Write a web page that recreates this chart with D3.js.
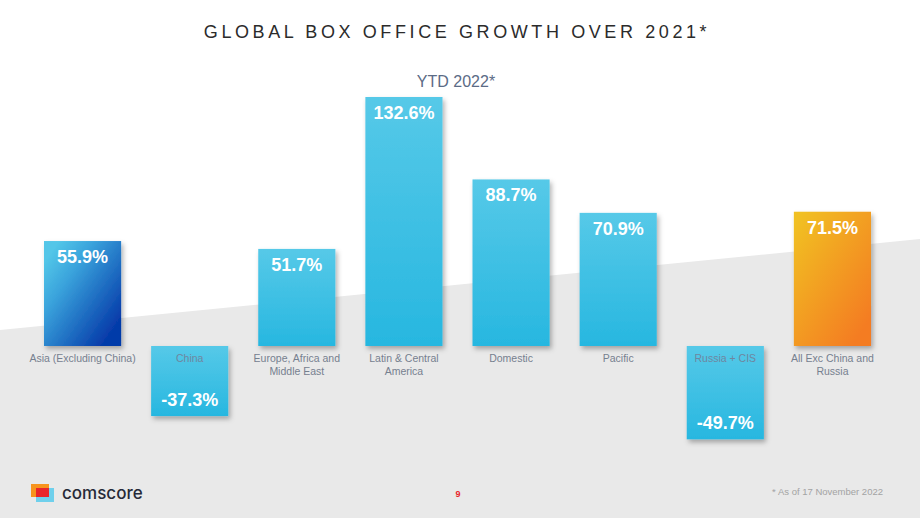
<!DOCTYPE html>
<html lang="en">
<head>
<meta charset="UTF-8">
<title>Global Box Office Growth</title>
<script src="https://cdn.jsdelivr.net/npm/d3@7"></script>
<style>
  body { margin: 0; background: #fff; }
  svg { display: block; font-family: Arial, "Liberation Sans", sans-serif; }
</style>
</head>
<body>
<div id="chart"></div>
<script>
// data
var regions = ["Asia (Excluding China)", "China", "Europe, Africa and|Middle East", "Latin & Central|America", "Domestic", "Pacific", "Russia + CIS", "All Exc China and|Russia"];
var growth = [55.9, -37.3, 51.7, 132.6, 88.7, 70.9, -49.7, 71.5];
var fills = ["asia", "blue", "blue", "blue", "blue", "blue", "blue", "orange"];

var width = 920, height = 518;

var svg = d3.select("#chart").append("svg")
    .attr("width", width)
    .attr("height", height);

var defs = svg.append("defs");

var blue = defs.append("linearGradient").attr("id", "blue")
    .attr("x1", 0).attr("y1", 0).attr("x2", 0).attr("y2", 1);
blue.append("stop").attr("offset", "0%").attr("stop-color", "#56c9e8");
blue.append("stop").attr("offset", "100%").attr("stop-color", "#27b7e0");

var asia = defs.append("linearGradient").attr("id", "asia")
    .attr("x1", 0.1).attr("y1", 0.1).attr("x2", 0.9).attr("y2", 0.85);
asia.append("stop").attr("offset", "0%").attr("stop-color", "#52c6e8");
asia.append("stop").attr("offset", "30%").attr("stop-color", "#3aa3dc");
asia.append("stop").attr("offset", "100%").attr("stop-color", "#053aa9");

var orange = defs.append("linearGradient").attr("id", "orange")
    .attr("x1", 0.1).attr("y1", 0).attr("x2", 0.9).attr("y2", 0.9);
orange.append("stop").attr("offset", "0%").attr("stop-color", "#f1c022");
orange.append("stop").attr("offset", "100%").attr("stop-color", "#f47b20");

var shadow = defs.append("filter").attr("id", "shadow")
    .attr("x", "-20%").attr("y", "-10%").attr("width", "150%").attr("height", "130%");
shadow.append("feDropShadow")
    .attr("dx", 2).attr("dy", 3).attr("stdDeviation", 2.5)
    .attr("flood-color", "#000").attr("flood-opacity", 0.3);

// grey slanted background
svg.append("polygon")
    .attr("points", [[0, 330], [width, 239], [width, height], [0, height]].join(" "))
    .attr("fill", "#e9e9e9");

// titles
svg.append("text")
    .attr("x", 457).attr("y", 38)
    .attr("text-anchor", "middle")
    .attr("font-size", 18)
    .attr("letter-spacing", 3.6)
    .attr("fill", "#2b2b2b")
    .text("GLOBAL BOX OFFICE GROWTH OVER 2021*");

svg.append("text")
    .attr("x", 456).attr("y", 87)
    .attr("text-anchor", "middle")
    .attr("font-size", 16)
    .attr("fill", "#5b6b86")
    .text("YTD 2022*");

// scales
var x = d3.scaleBand()
    .domain(regions)
    .range([29, 886])
    .paddingInner(0.28)
    .paddingOuter(0.14);

var y = d3.scaleLinear()
    .domain([0, 132.6])
    .range([346, 97]);

var bars = svg.append("g").selectAll("g")
    .data(regions)
    .join("g");

bars.append("rect")
    .attr("x", function (d) { return x(d); })
    .attr("width", x.bandwidth())
    .attr("y", function (d, i) { return y(Math.max(0, growth[i])); })
    .attr("height", function (d, i) { return Math.abs(y(growth[i]) - y(0)); })
    .attr("fill", function (d, i) { return "url(#" + fills[i] + ")"; })
    .attr("filter", "url(#shadow)");

// values
bars.append("text")
    .attr("x", function (d) { return x(d) + x.bandwidth() / 2; })
    .attr("y", function (d, i) {
        return growth[i] >= 0 ? y(growth[i]) + 22 : y(growth[i]) - 10;
    })
    .attr("text-anchor", "middle")
    .attr("font-size", 18)
    .attr("font-weight", "bold")
    .attr("fill", "#fff")
    .text(function (d, i) { return growth[i].toFixed(1) + "%"; });

// category labels
bars.append("text")
    .attr("text-anchor", "middle")
    .attr("font-size", 10.5)
    .attr("fill", function (d, i) { return growth[i] >= 0 ? "#76808f" : "#6f86a0"; })
    .each(function (d) {
        var parts = d.split("|");
        var t = d3.select(this);
        parts.forEach(function (p, k) {
            t.append("tspan")
                .attr("x", x(d) + x.bandwidth() / 2)
                .attr("y", 362 + k * 13)
                .text(p);
        });
    });

// footer
var logo = svg.append("g").attr("transform", "translate(31,484)");
logo.append("rect").attr("x", 0).attr("y", 0).attr("width", 18).attr("height", 13).attr("fill", "#f7941d");
logo.append("rect").attr("x", 5).attr("y", 4).attr("width", 18).attr("height", 14).attr("fill", "#6fd0ec");
logo.append("rect").attr("x", 5).attr("y", 4).attr("width", 13).attr("height", 9).attr("fill", "#e8262b");

svg.append("text")
    .attr("x", 62).attr("y", 499)
    .attr("font-size", 17)
    .attr("font-weight", 500)
    .attr("fill", "#262a38")
    .style("font-family", "Inter, 'Noto Sans', sans-serif")
    .text("comscore");

svg.append("text")
    .attr("x", 458).attr("y", 497)
    .attr("text-anchor", "middle")
    .attr("font-size", 9)
    .attr("font-weight", "bold")
    .attr("fill", "#e8262b")
    .text("9");

svg.append("text")
    .attr("x", 883).attr("y", 495)
    .attr("text-anchor", "end")
    .attr("font-size", 9.5)
    .attr("fill", "#a3a3a3")
    .text("* As of 17 November 2022");
</script>
</body>
</html>
